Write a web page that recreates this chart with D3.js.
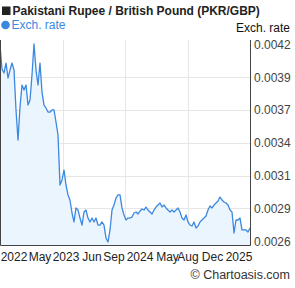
<!DOCTYPE html>
<html>
<head>
<meta charset="utf-8">
<script src="https://cdn.jsdelivr.net/npm/d3@7"></script>
<style>
  body { margin: 0; background: #fff; }
  svg { display: block; font-family: "Liberation Sans", Arial, sans-serif; }
</style>
</head>
<body>
<svg id="chart"></svg>
<script>
// PKR/GBP rate, sampled evenly from left to right of the plot
const rates = [
  0.004196, 0.004000, 0.003968, 0.004049, 0.003927, 0.003992, 0.004049, 0.003992,
  0.003667, 0.003422, 0.003691, 0.003870, 0.003829, 0.003870, 0.003707, 0.003748,
  0.003952, 0.004204, 0.003992, 0.003870, 0.004049, 0.003813, 0.003707, 0.003683,
  0.003650, 0.003650, 0.003667, 0.003667, 0.003569, 0.003463, 0.003056, 0.003097,
  0.003178, 0.003056, 0.002975, 0.002934, 0.002828, 0.002755, 0.002869, 0.002852,
  0.002787, 0.002730, 0.002836, 0.002852, 0.002787, 0.002755, 0.002787, 0.002755,
  0.002787, 0.002730, 0.002730, 0.002755, 0.002730, 0.002624, 0.002592, 0.002690,
  0.002852, 0.002893, 0.002950, 0.002975, 0.002975, 0.002869, 0.002812, 0.002771,
  0.002787, 0.002787, 0.002795, 0.002828, 0.002836, 0.002820, 0.002844, 0.002861,
  0.002852, 0.002877, 0.002852, 0.002836, 0.002820, 0.002852, 0.002877, 0.002893,
  0.002909, 0.002877, 0.002893, 0.002869, 0.002852, 0.002836, 0.002852, 0.002836,
  0.002852, 0.002869, 0.002836, 0.002787, 0.002771, 0.002812, 0.002755, 0.002730,
  0.002722, 0.002755, 0.002706, 0.002722, 0.002755, 0.002771, 0.002787, 0.002804,
  0.002852, 0.002885, 0.002869, 0.002893, 0.002909, 0.002926, 0.002958, 0.002934,
  0.002918, 0.002909, 0.002893, 0.002852, 0.002836, 0.002665, 0.002771, 0.002771,
  0.002787, 0.002690, 0.002690, 0.002690, 0.002673, 0.002706
];

// Y axis tick values (right side)
const yTicks = [0.0026, 0.002867, 0.003133, 0.0034, 0.003667, 0.003933, 0.0042];

// X axis labels and where they sit (in sample index units)
const xLabels = ["2022", "May", "2023", "Jun", "Sep", "2024", "May", "Aug", "Dec", "2025"];
const xLabelPos = [7, 20, 33, 46, 57, 70, 83.75, 94, 106.25, 119.5];

// Vertical grid lines (sample index units)
const xGrid = [31.25, 62.5, 93.75];

const W = 295, H = 288;
const plot = { left: 0, right: 250, top: 40, bottom: 245 };

const svg = d3.select("#chart").attr("width", W).attr("height", H);

// Scales
const xScale = d3.scaleLinear()
  .domain([0, rates.length - 1])
  .range([plot.left, plot.right]);

const yScale = d3.scaleLinear()
  .domain([0.0026, 0.0042])
  .range([241, 44.5]);

// Grid lines
svg.selectAll(".vgrid")
  .data(xGrid)
  .enter()
  .append("line")
  .attr("x1", d => Math.round(xScale(d)) + 0.5)
  .attr("x2", d => Math.round(xScale(d)) + 0.5)
  .attr("y1", plot.top)
  .attr("y2", plot.bottom)
  .attr("stroke", "#e6e6e6");

svg.selectAll(".hgrid")
  .data(yTicks.slice(1, -1))
  .enter()
  .append("line")
  .attr("x1", plot.left)
  .attr("x2", plot.right)
  .attr("y1", d => Math.round(yScale(d)) + 0.5)
  .attr("y2", d => Math.round(yScale(d)) + 0.5)
  .attr("stroke", "#e6e6e6");

// Area under the line
const area = d3.area()
  .x((d, i) => xScale(i))
  .y0(plot.bottom)
  .y1(d => yScale(d));

svg.append("path")
  .datum(rates)
  .attr("d", area)
  .attr("fill", "#ebf5fe");

// The rate line
const line = d3.line()
  .x((d, i) => xScale(i))
  .y(d => yScale(d));

svg.append("path")
  .datum(rates)
  .attr("d", line)
  .attr("fill", "none")
  .attr("stroke", "#3b88e0")
  .attr("stroke-width", 1.3)
  .attr("stroke-linejoin", "round");

// Frame: left, bottom and right axis line
svg.append("path")
  .attr("d", `M${plot.left + 0.5},${plot.top}V${plot.bottom + 0.5}H${plot.right + 0.5}V${plot.top}`)
  .attr("fill", "none")
  .attr("stroke", "#444");

// Right axis labels
svg.selectAll(".ylab")
  .data(yTicks)
  .enter()
  .append("text")
  .attr("x", 254)
  .attr("y", d => yScale(d) + 4.5)
  .attr("font-size", "12px")
  .attr("fill", "#444")
  .text(d => d3.format(".4f")(d));

// Bottom labels
svg.selectAll(".xlab")
  .data(xLabels)
  .enter()
  .append("text")
  .attr("x", (d, i) => xScale(xLabelPos[i]))
  .attr("y", 261)
  .attr("text-anchor", "middle")
  .attr("font-size", "12px")
  .attr("fill", "#222")
  .text(d => d);

// Title legend
svg.append("rect")
  .attr("x", 2).attr("y", 6.5).attr("width", 8.5).attr("height", 8.5)
  .attr("fill", "#222");
svg.append("text")
  .attr("x", 12.5).attr("y", 15)
  .attr("font-size", "12px")
  .attr("font-weight", "bold")
  .attr("fill", "#222")
  .text("Pakistani Rupee / British Pound (PKR/GBP)");

// Series legend
svg.append("circle")
  .attr("cx", 5.5).attr("cy", 25).attr("r", 4.3)
  .attr("fill", "#3b88e0");
svg.append("text")
  .attr("x", 11.5).attr("y", 29)
  .attr("font-size", "12px")
  .attr("fill", "#3b88e0")
  .text("Exch. rate");

// Axis title
svg.append("text")
  .attr("x", 290).attr("y", 31.5)
  .attr("text-anchor", "end")
  .attr("font-size", "12px")
  .attr("fill", "#111")
  .text("Exch. rate");

// Credit
svg.append("text")
  .attr("x", 290).attr("y", 279)
  .attr("text-anchor", "end")
  .attr("font-size", "12.5px")
  .attr("fill", "#333")
  .text("© Chartoasis.com");
</script>
</body>
</html>
